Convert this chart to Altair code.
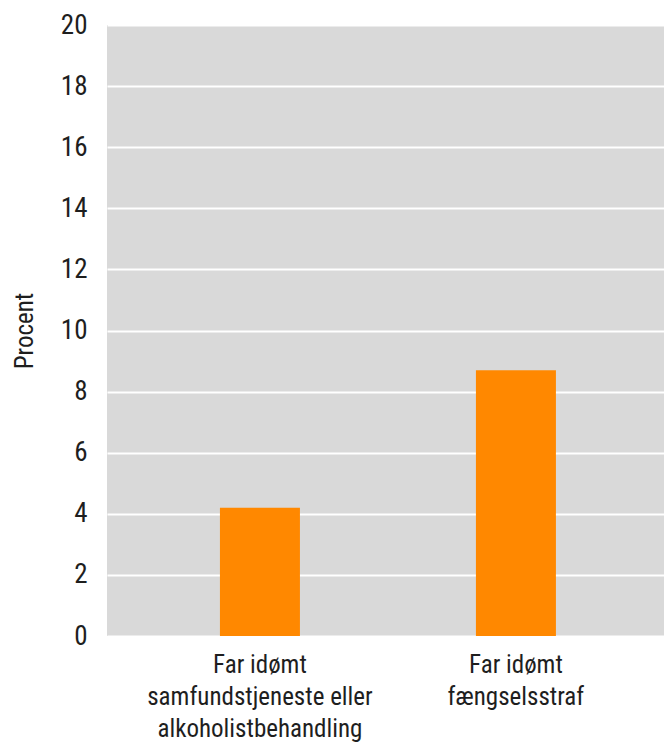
import altair as alt
import pandas as pd

categories = ["Far idømt\nsamfundstjeneste eller\nalkoholistbehandling", "Far idømt\nfængselsstraf"]
values = [4.2, 8.7]
y_ticks = [0, 2, 4, 6, 8, 10, 12, 14, 16, 18, 20]

df = pd.DataFrame({"cat": categories, "val": values})

FONT = "Roboto Condensed, Liberation Sans Narrow, DejaVu Sans Condensed, sans-serif"

chart = alt.Chart(df).mark_bar(color="#FF8800", width=80).encode(
    x=alt.X("cat:N", sort=categories, title=None,
            scale=alt.Scale(paddingInner=0.6875, paddingOuter=0.4317, align=0.511),
            axis=alt.Axis(labelAngle=0, labelExpr="split(datum.label, '\\n')",
                          labelFontSize=25, labelLineHeight=32, labelPadding=16,
                          labelLimit=0,
                          labelColor="#1e1e1e", labelFont=FONT,
                          ticks=False, domain=False, grid=False)),
    y=alt.Y("val:Q", title="Procent",
            scale=alt.Scale(domain=[0, 20], nice=False),
            axis=alt.Axis(values=y_ticks, labelFontSize=27, labelPadding=20,
                          labelColor="#1e1e1e", labelFont=FONT,
                          titleFont=FONT, titleFontSize=25, titleFontWeight="normal",
                          titleColor="#1e1e1e", titlePadding=23,
                          ticks=False, domain=False, grid=True,
                          gridColor="#FFFFFF", gridWidth=2)),
).properties(
    width=557, height=611,
    autosize=alt.AutoSizeParams(type="none"),
    padding={"left": 99, "top": 17, "right": 0, "bottom": 110},
).configure_view(fill="#D9D9D9", stroke=None)

chart.save("out.html", embed_options={"renderer": "svg", "actions": False})
